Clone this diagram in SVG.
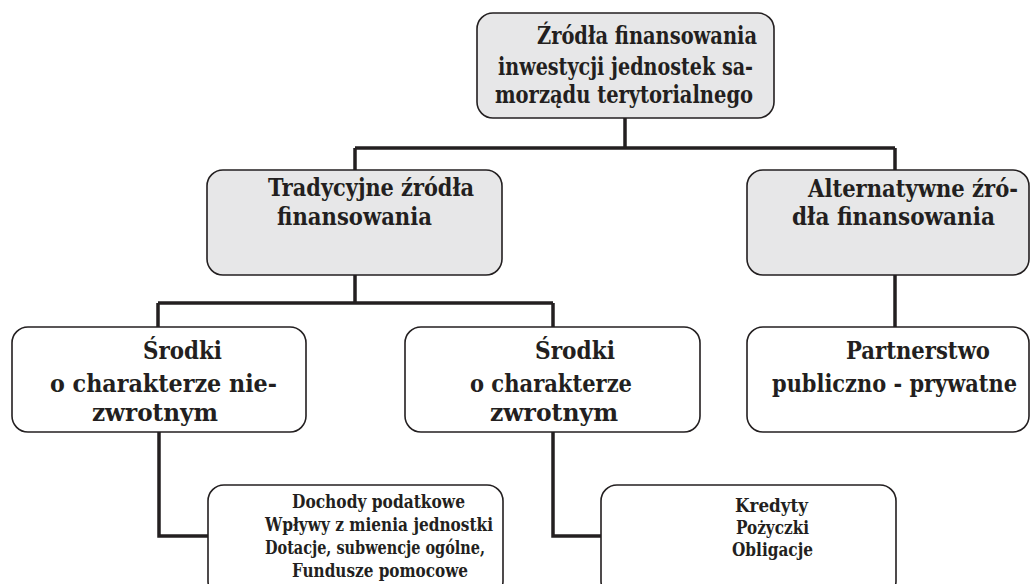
<svg xmlns="http://www.w3.org/2000/svg" width="1031" height="584" viewBox="0 0 1031 584">
<style>
.box{stroke:#231f20;stroke-width:1.6;}
.g{fill:#e7e7e8;}
.w{fill:#ffffff;}
.t{font-family:"DejaVu Serif Condensed","DejaVu Serif",serif;font-weight:bold;fill:#231f20;}
.l1{font-size:24px;}
.l2{font-size:25px;}
.l3{font-size:23.5px;}
.l4{font-size:19px;}
.c{fill:none;stroke:#231f20;stroke-width:3.5;stroke-linejoin:miter;}
</style>
<rect width="1031" height="584" fill="#ffffff"/>
<g id="connectors">
<path class="c" d="M625 118V148M355 148H895M355 148V170M895 148V170"/>
<path class="c" d="M355 275V303M158 303H553M158 303V327M553 303V327"/>
<path class="c" d="M895 275V327"/>
<path class="c" d="M159 432V536H208"/>
<path class="c" d="M553 432V536H601"/>
</g>
<g id="root">
<rect class="box g" x="477" y="13" width="297" height="105" rx="16"/>
<text class="t l1" x="537" y="44" textLength="220" lengthAdjust="spacingAndGlyphs">Źródła finansowania</text>
<text class="t l1" x="498" y="75" textLength="255" lengthAdjust="spacingAndGlyphs">inwestycji jednostek sa-</text>
<text class="t l1" x="495" y="103" textLength="258" lengthAdjust="spacingAndGlyphs">morządu terytorialnego</text>
</g>
<g id="tradycyjne">
<rect class="box g" x="207" y="170" width="295" height="105" rx="16"/>
<text class="t l2" x="268" y="196" textLength="206" lengthAdjust="spacingAndGlyphs">Tradycyjne źródła</text>
<text class="t l2" x="277" y="225" textLength="155" lengthAdjust="spacingAndGlyphs">finansowania</text>
</g>
<g id="alternatywne">
<rect class="box g" x="747" y="170" width="282" height="105" rx="16"/>
<text class="t l2" x="808" y="197" textLength="210" lengthAdjust="spacingAndGlyphs">Alternatywne źró-</text>
<text class="t l2" x="792" y="225" textLength="203" lengthAdjust="spacingAndGlyphs">dła finansowania</text>
</g>
<g id="niezwrotne">
<rect class="box w" x="12" y="327" width="294" height="105" rx="16"/>
<text class="t l2" x="143" y="359" textLength="79" lengthAdjust="spacingAndGlyphs">Środki</text>
<text class="t l2" x="50" y="392" textLength="227" lengthAdjust="spacingAndGlyphs">o charakterze nie-</text>
<text class="t l2" x="92" y="421" textLength="126" lengthAdjust="spacingAndGlyphs">zwrotnym</text>
</g>
<g id="zwrotne">
<rect class="box w" x="405" y="327" width="295" height="105" rx="16"/>
<text class="t l2" x="535" y="359" textLength="80" lengthAdjust="spacingAndGlyphs">Środki</text>
<text class="t l2" x="470" y="392" textLength="162" lengthAdjust="spacingAndGlyphs">o charakterze</text>
<text class="t l2" x="490" y="421" textLength="128" lengthAdjust="spacingAndGlyphs">zwrotnym</text>
</g>
<g id="ppp">
<rect class="box w" x="747" y="327" width="282" height="105" rx="16"/>
<text class="t l2" x="846" y="359" textLength="144" lengthAdjust="spacingAndGlyphs">Partnerstwo</text>
<text class="t l3" x="772" y="392" textLength="245" lengthAdjust="spacingAndGlyphs">publiczno - prywatne</text>
</g>
<g id="dochody">
<rect class="box w" x="208" y="485" width="295" height="112" rx="16"/>
<text class="t l4" x="292" y="508" textLength="173" lengthAdjust="spacingAndGlyphs">Dochody podatkowe</text>
<text class="t l4" x="265" y="531" textLength="228" lengthAdjust="spacingAndGlyphs">Wpływy z mienia jednostki</text>
<text class="t l4" x="265" y="554" textLength="220" lengthAdjust="spacingAndGlyphs">Dotacje, subwencje ogólne,</text>
<text class="t l4" x="292" y="577" textLength="176" lengthAdjust="spacingAndGlyphs">Fundusze pomocowe</text>
</g>
<g id="kredyty">
<rect class="box w" x="601" y="485" width="295" height="112" rx="16"/>
<text class="t l4" x="735" y="512" textLength="73" lengthAdjust="spacingAndGlyphs">Kredyty</text>
<text class="t l4" x="736" y="534" textLength="73" lengthAdjust="spacingAndGlyphs">Pożyczki</text>
<text class="t l4" x="732" y="556" textLength="81" lengthAdjust="spacingAndGlyphs">Obligacje</text>
</g>
</svg>
